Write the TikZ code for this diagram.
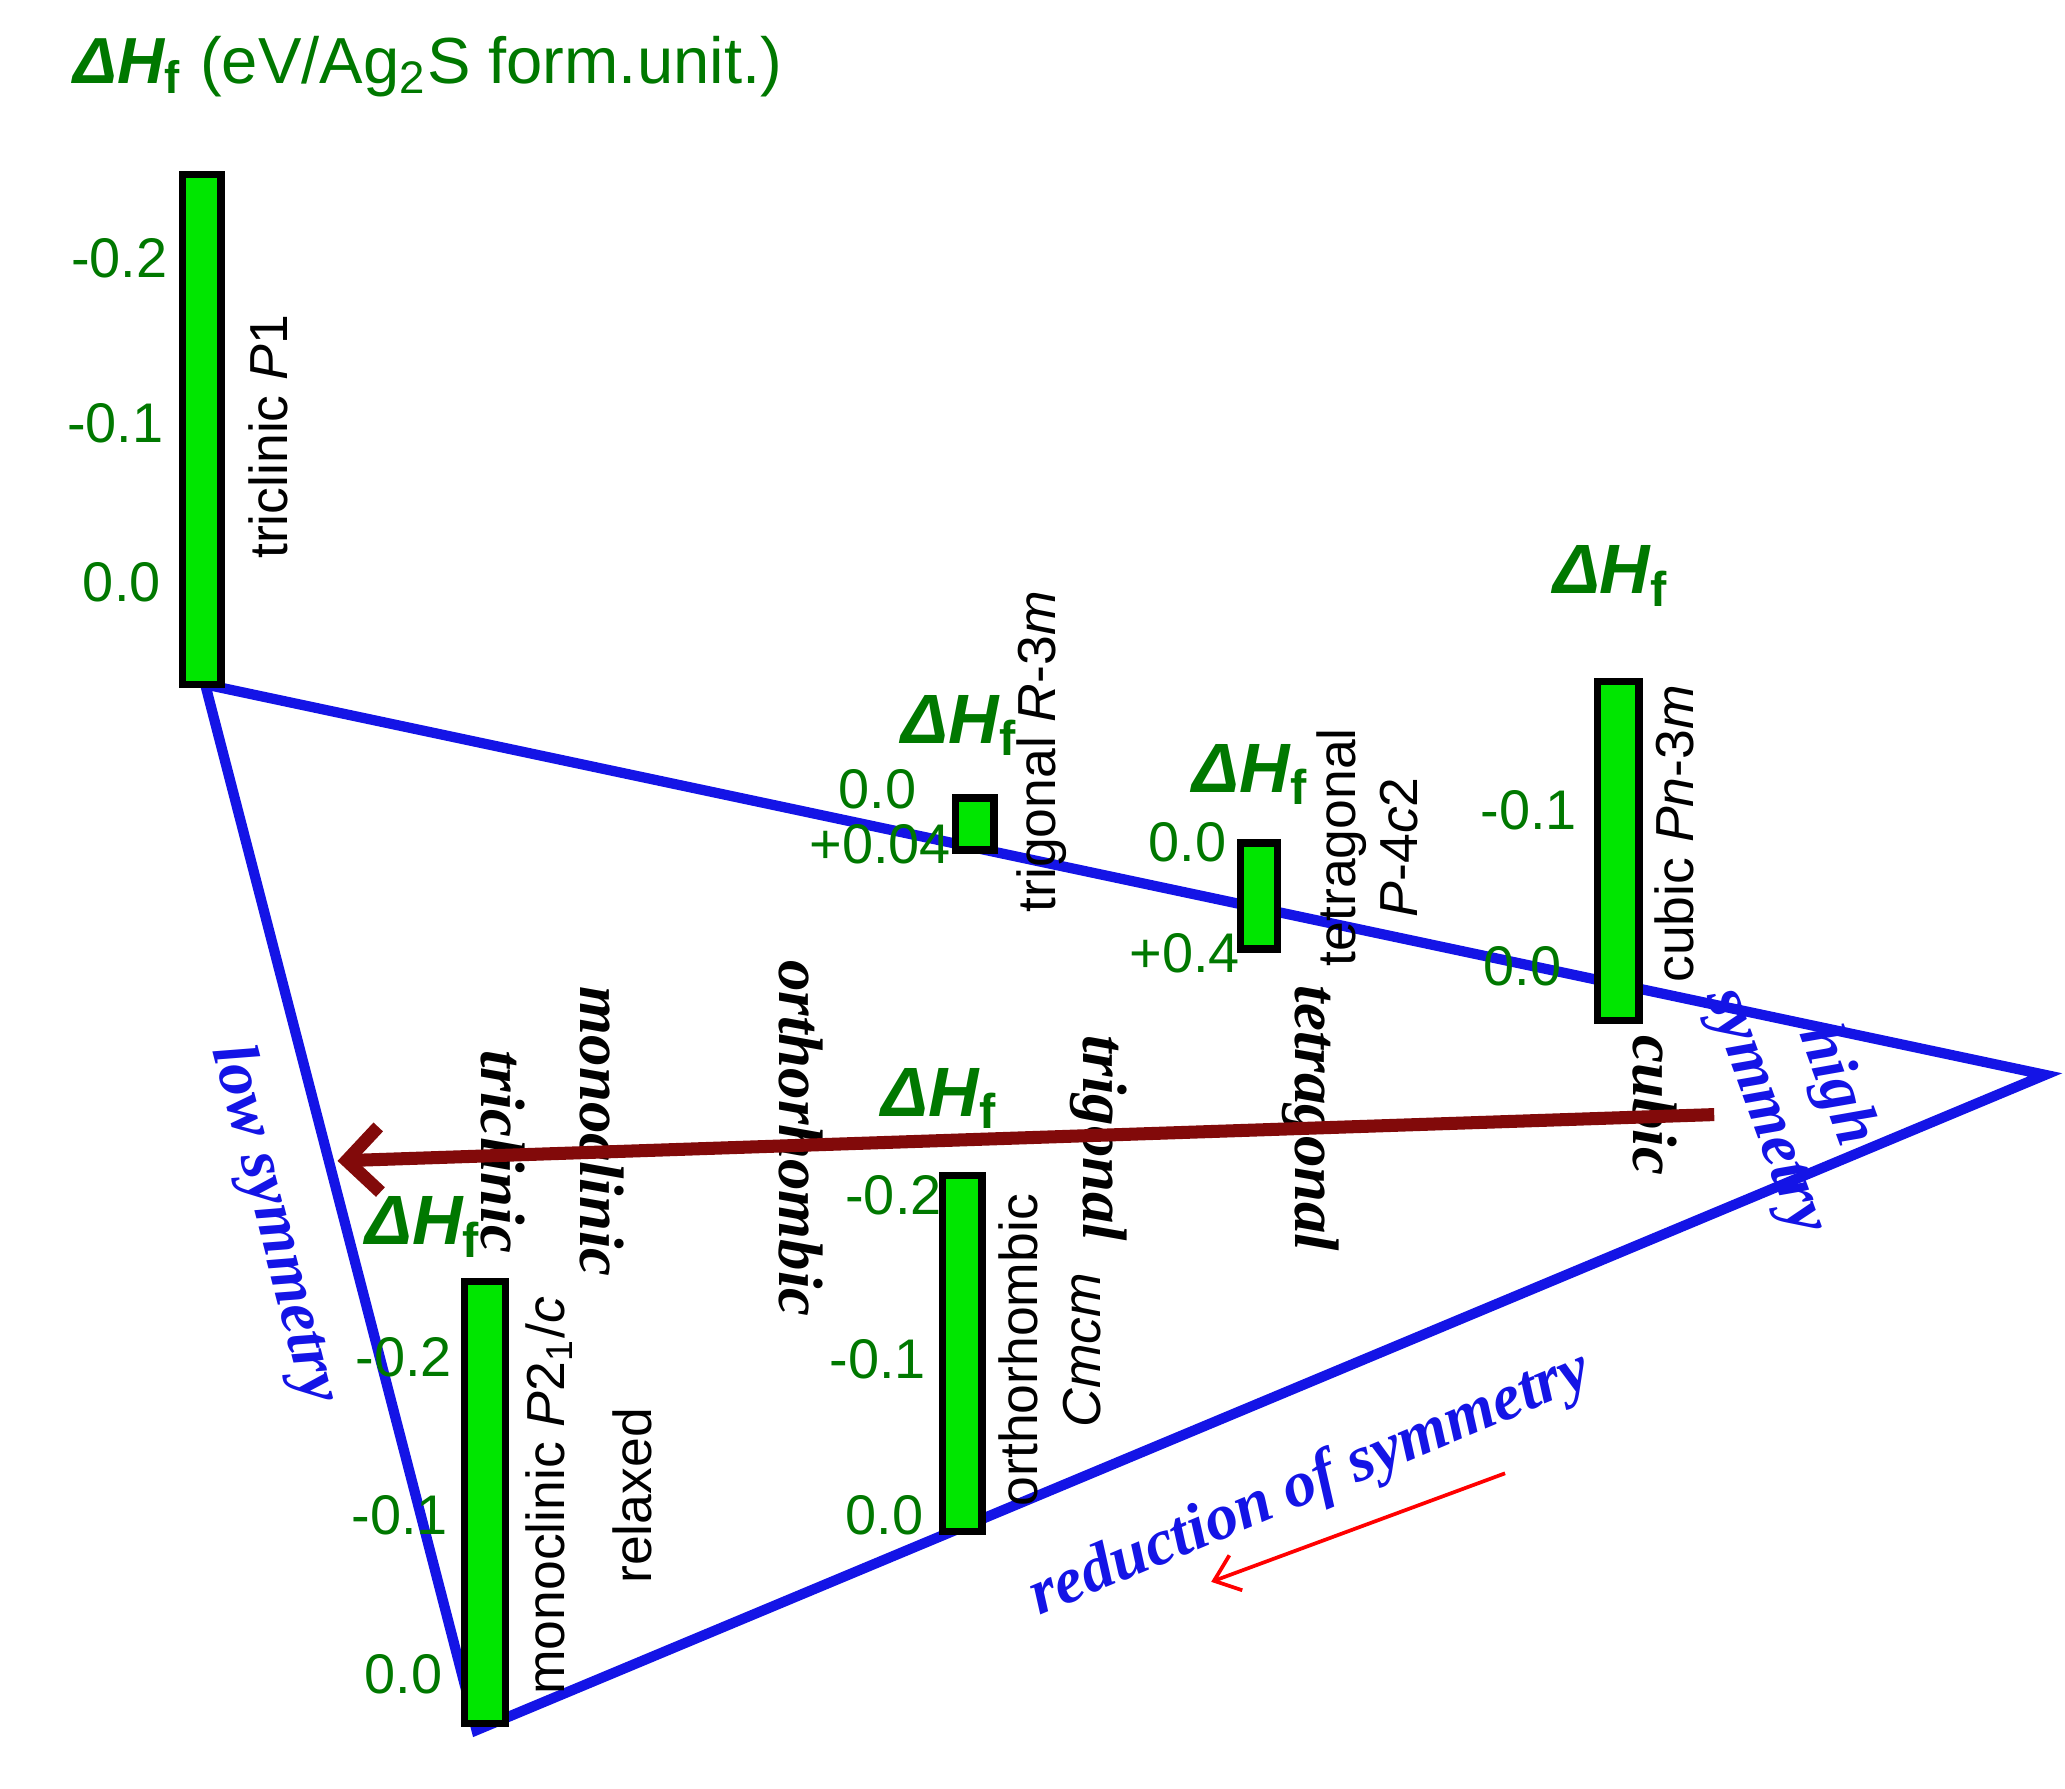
\documentclass[tikz,border=0pt]{standalone}
\usepackage{fontspec}
\setmainfont{Liberation Serif}
\newfontfamily\sansf{Liberation Sans}
\usetikzlibrary{arrows.meta}
\definecolor{dhgreen}{RGB}{0,120,0}
\definecolor{barfill}{RGB}{0,230,0}
\definecolor{symblue}{RGB}{20,20,230}
\definecolor{arrowred}{RGB}{130,10,10}
\newcommand{\dHf}{{\sansf\bfseries\itshape ΔH}\textsubscript{\sansf\bfseries f}}
\begin{document}
\begin{tikzpicture}[x=0.01cm,y=-0.01cm]
       \tikzset{bar/.style={draw, line width=1.6pt, fill=barfill}}
       \tikzset{tick/.style={text=dhgreen, font=\sansf\fontsize{12}{14}\selectfont, inner sep=0pt}}
       \tikzset{dh/.style={text=dhgreen, font=\sansf\fontsize{15}{17}\selectfont, inner sep=0pt}}
       \tikzset{phase/.style={rotate=90, font=\sansf\fontsize{11.5}{13.5}\selectfont, inner sep=0pt}}
       \tikzset{system/.style={rotate=-90, font=\bfseries\itshape\fontsize{13.5}{15}\selectfont, inner sep=0pt}}
       \tikzset{sym/.style={text=symblue, font=\bfseries\itshape\fontsize{14}{16}\selectfont, inner sep=0pt}}

        \useasboundingbox (0,0) rectangle (1560,1351);

        % triangle
        \coordinate (top) at (155,517);
        \coordinate (right) at (1545,812);
        \coordinate (bottom) at (360,1307);
        \draw[symblue, line width=2.2pt, line join=miter] (top) -- (right) -- (bottom) -- cycle;

        \node[dh, anchor=west, font=\sansf\fontsize{14}{16}\selectfont] (title) at (55,50) {\dHf\ (eV/Ag\textsubscript{2}S form.unit.)};

        % triclinic
        \draw[bar] (138,132) rectangle (167,517);
        \node[tick] (tri2) at (90,195) {-0.2};
        \node[tick] (tri1) at (87,320) {-0.1};
        \node[tick] (tri0) at (92,440) {0.0};
        \node[phase] (triP) at (203,330) {triclinic \textit{P}1};

        % trigonal
        \draw[bar] (722,603) rectangle (751,642);
        \node[dh] (dhtrig) at (725,548) {\dHf};
        \node[tick] (trig0) at (663,596) {0.0};
        \node[tick] (trig1) at (665,638) {+0.04};
        \node[phase] (trigP) at (787,568) {trigonal \textit{R}-3\textit{m}};

        % tetragonal
        \draw[bar] (937,637) rectangle (965,717);
        \node[dh] (dhtet) at (945,585) {\dHf};
        \node[tick] (tet0) at (897,636) {0.0};
        \node[tick] (tet1) at (895,720) {+0.4};
        \node[phase, align=center] (tetP) at (1033,640) {tetragonal\\\textit{P}-4\textit{c}2};

        % cubic
        \draw[bar] (1207,515) rectangle (1238,771);
        \node[dh] (dhcub) at (1217,435) {\dHf};
        \node[tick] (cub1) at (1155,612) {-0.1};
        \node[tick] (cub0) at (1150,730) {0.0};
        \node[phase] (cubP) at (1265,630) {cubic \textit{Pn}-3\textit{m}};

        % orthorhombic
        \draw[bar] (712,888) rectangle (742,1157);
        \node[dh] (dhort) at (710,830) {\dHf};
        \node[tick] (ort2) at (675,903) {-0.2};
        \node[tick] (ort1) at (663,1027) {-0.1};
        \node[tick] (ort0) at (668,1145) {0.0};
        \node[phase, align=center] (ortP) at (793,1020) {orthorhombic\\\textit{Cmcm}};

        % monoclinic
        \draw[bar] (351,968) rectangle (382,1302);
        \node[dh] (dhmon) at (320,927) {\dHf};
        \node[tick] (mon2) at (305,1025) {-0.2};
        \node[tick] (mon1) at (302,1145) {-0.1};
        \node[tick] (mon0) at (305,1265) {0.0};
        \node[phase] (monP) at (415,1130) {monoclinic \textit{P}2\textsubscript{1}/\textit{c}};
        \node[phase] (relax) at (478,1130) {relaxed};

        % crystal systems
        \node[system] (s1) at (380,870) {triclinic};
        \node[system] (s2) at (455,855) {monoclinic};
        \node[system] (s3) at (605,860) {orthorhombic};
        \node[system] (s4) at (830,860) {trigonal};
        \node[system] (s5) at (990,845) {tetragonal};
        \node[system] (s6) at (1250,835) {cubic};

        \coordinate (from) at (1295,842);
        \coordinate (to) at (255,877);
        \draw[arrowred, line width=2.8pt, -{Straight Barb[length=7pt,width=14pt]}] (from) -- (to);

        \node[sym, rotate=-75.5] (low) at (207,925) {low symmetry};
        \node[sym, rotate=-70, align=center] (high) at (1360,830) {high\\symmetry};
        \node[sym, rotate=22.7] (red) at (990,1122) {reduction of symmetry};
        \coordinate (r1) at (1137,1113);
        \coordinate (r2) at (915,1195);
        \draw[red, line width=0.8pt, -{Straight Barb[length=5pt,width=8pt]}] (r1) -- (r2);

   \end{tikzpicture}
\end{document}
